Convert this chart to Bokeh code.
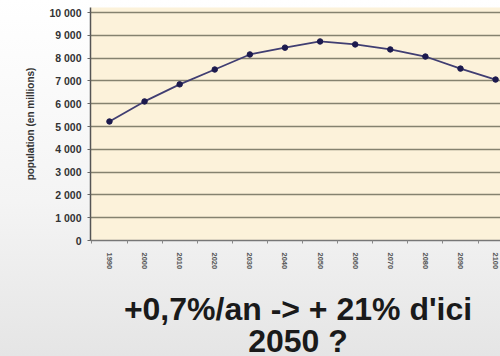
from bokeh.plotting import figure
from bokeh.layouts import column
from bokeh.models import Range1d, FixedTicker, ColumnDataSource, Div
from bokeh.embed import file_html
from bokeh.resources import INLINE

# World population projection (millions)
years = ["1990", "2000", "2010", "2020", "2030", "2040", "2050",
         "2060", "2070", "2080", "2090", "2100"]
population = [5220, 6100, 6850, 7500, 8160, 8460, 8730,
              8600, 8380, 8070, 7540, 7060]
y_ticks = [0, 1000, 2000, 3000, 4000, 5000, 6000, 7000, 8000, 9000, 10000]
y_tick_labels = ["0", "1 000", "2 000", "3 000", "4 000", "5 000",
                 "6 000", "7 000", "8 000", "9 000", "10 000"]
headline = ["+0,7%/an -&gt; + 21% d'ici", "2050 ?"]

W, H_CHART, H_TEXT = 500, 280, 76
LEFT = 90

idx = list(range(len(years)))
src = ColumnDataSource(dict(x=idx, y=population))

p = figure(width=W, height=H_CHART, output_backend="svg", toolbar_location=None,
           x_range=Range1d(-0.54, 11.14), y_range=Range1d(0, 10220),
           min_border_left=LEFT, min_border_right=0, min_border_top=7,
           min_border_bottom=40)

p.background_fill_color = "#fcf2da"
p.border_fill_alpha = 0
p.outline_line_color = None

# y axis
p.yaxis.ticker = FixedTicker(ticks=y_ticks)
p.yaxis.major_label_overrides = {t: l for t, l in zip(y_ticks, y_tick_labels)}
p.yaxis.major_label_text_font = "Liberation Sans"
p.yaxis.major_label_text_font_style = "bold"
p.yaxis.major_label_text_font_size = "10.5px"
p.yaxis.major_label_text_color = "#333333"
p.yaxis.major_label_standoff = 6
p.yaxis.major_tick_out = 3
p.yaxis.major_tick_in = 0
p.yaxis.minor_tick_line_color = None
p.yaxis.axis_line_color = "#555555"
p.yaxis.axis_line_width = 1.5
p.yaxis.major_tick_line_color = "#666666"
p.yaxis.axis_label = "population (en millions)"
p.yaxis.axis_label_text_font = "Liberation Sans"
p.yaxis.axis_label_text_font_style = "bold"
p.yaxis.axis_label_text_font_size = "10px"
p.yaxis.axis_label_text_color = "#333333"
p.yaxis.axis_label_standoff = 10

# x axis
p.xaxis.ticker = FixedTicker(ticks=idx, minor_ticks=[i + 0.5 for i in idx] + [-0.5])
p.xaxis.major_label_overrides = {i: y for i, y in zip(idx, years)}
p.xaxis.major_label_orientation = "vertical"
p.xaxis.major_label_text_font = "Liberation Sans"
p.xaxis.major_label_text_font_style = "bold"
p.xaxis.major_label_text_font_size = "7.5px"
p.xaxis.major_label_text_color = "#555555"
p.xaxis.major_label_standoff = 6
p.xaxis.major_tick_line_color = None
p.xaxis.minor_tick_out = 3
p.xaxis.minor_tick_in = 0
p.xaxis.minor_tick_line_color = "#888888"
p.xaxis.axis_line_color = "#777777"
p.xaxis.axis_line_width = 1.5

p.xgrid.grid_line_color = None
p.ygrid.grid_line_color = "#85826f"
p.ygrid.grid_line_width = 1.5

p.line("x", "y", source=src, line_color="#403e72", line_width=1.8)
p.scatter("x", "y", source=src, size=5.5, fill_color="#1c1a4e", line_color="#1c1a4e")

# headline under the chart, each line centred on the plot frame
FONT_PX = 32
box_left = 2 * (LEFT + (W - LEFT) / 2 - 2) - W
box_width = W - box_left
line_tops = [8, 40]
lines_html = "".join(
    f"<div style=\"position:absolute;left:{box_left:.0f}px;top:{t}px;"
    f"width:{box_width:.0f}px;text-align:center;white-space:nowrap;"
    f"font-family:'Liberation Sans';font-weight:bold;font-size:{FONT_PX}px;"
    f"line-height:1;color:#1a1a1a;\">{txt}</div>"
    for txt, t in zip(headline, line_tops)
)
caption = Div(text=lines_html, width=W, height=H_TEXT)

layout = column(p, caption, spacing=0)
layout.styles = {"background": "linear-gradient(#ffffff 0%, #f4f4f4 55%, #e4e4e4 100%)"}

open("out.html", "w").write(file_html(layout, INLINE))
